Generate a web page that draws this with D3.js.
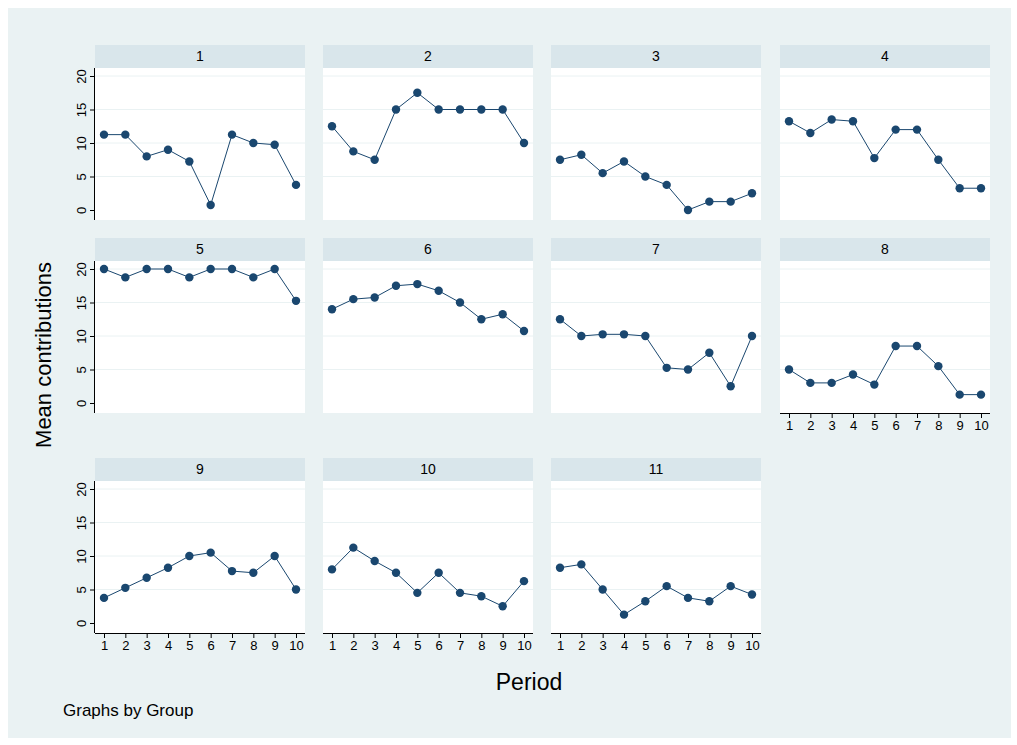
<!DOCTYPE html>
<html>
<head>
<meta charset="utf-8">
<style>
  body { margin: 0; background: white; }
  svg { font-family: Arial, 'Liberation Sans', sans-serif; }
</style>
</head>
<body>
<svg width="1017" height="745"></svg>
<script src="https://d3js.org/d3.v7.min.js"></script>
<script>
  let periods = [1, 2, 3, 4, 5, 6, 7, 8, 9, 10]
  let groups = ["1", "2", "3", "4", "5", "6", "7", "8", "9", "10", "11"]
  let yTicks = [0, 5, 10, 15, 20]
  let g1 = [11.25, 11.25, 8, 9, 7.25, 0.75, 11.25, 10, 9.75, 3.75]
  let g2 = [12.5, 8.75, 7.5, 15, 17.5, 15, 15, 15, 15, 10]
  let g3 = [7.5, 8.25, 5.5, 7.25, 5, 3.75, 0, 1.25, 1.25, 2.5]
  let g4 = [13.25, 11.5, 13.5, 13.25, 7.75, 12, 12, 7.5, 3.25, 3.25]
  let g5 = [20, 18.75, 20, 20, 18.75, 20, 20, 18.75, 20, 15.25]
  let g6 = [14, 15.5, 15.75, 17.5, 17.75, 16.75, 15, 12.5, 13.25, 10.75]
  let g7 = [12.5, 10, 10.25, 10.25, 10, 5.25, 5, 7.5, 2.5, 10]
  let g8 = [5, 3, 3, 4.25, 2.75, 8.5, 8.5, 5.5, 1.25, 1.25]
  let g9 = [3.75, 5.25, 6.75, 8.25, 10, 10.5, 7.75, 7.5, 10, 5]
  let g10 = [8, 11.25, 9.25, 7.5, 4.5, 7.5, 4.5, 4, 2.5, 6.25]
  let g11 = [8.25, 8.75, 5, 1.25, 3.25, 5.5, 3.75, 3.25, 5.5, 4.25]
  let series = [g1, g2, g3, g4, g5, g6, g7, g8, g9, g10, g11]

  let svg = d3.select("svg")
  let navy = "#1a476f"

  svg.append("rect").attr("x", 8).attr("y", 8).attr("width", 1003).attr("height", 730).attr("fill", "#eaf2f3")

  let colX = [95, 323, 551, 780]
  let rowTop = [45, 238, 458]
  let pw = 210, stripH = 23, ph = 152

  groups.forEach((name, i) => {
    let col = i % 4, row = Math.floor(i / 4)
    let x0 = colX[col], top = rowTop[row]
    let g = svg.append("g").attr("transform", `translate(${x0},${top})`)
    g.append("rect").attr("width", pw).attr("height", stripH).attr("fill", "#d9e6eb")
    g.append("text").attr("x", pw / 2).attr("y", 16).attr("text-anchor", "middle")
      .attr("font-size", 14).text(name)
    let pt = top + stripH
    let p = svg.append("g").attr("transform", `translate(${x0},${pt})`)
    p.append("rect").attr("width", pw).attr("height", ph).attr("fill", "white")

    let x = d3.scaleLinear().domain([1, 10]).range([9, pw - 9])
    let y = d3.scaleLinear().domain([0, 20]).range([ph - 10, 8])

    p.selectAll(".grid").data(yTicks.slice(1)).join("line")
      .attr("x1", 0).attr("x2", pw).attr("y1", d => y(d)).attr("y2", d => y(d))
      .attr("stroke", "#eaf2f3").attr("stroke-width", 1)

    if (col === 0) {
      let ax = p.append("g").call(d3.axisLeft(y).tickValues(yTicks).tickSize(5).tickPadding(3))
      ax.select(".domain").attr("stroke", "#000").attr("d", `M-0.5,0V${ph}`)
      ax.selectAll(".tick text").attr("font-size", 13).attr("text-anchor", "middle")
        .attr("transform", "translate(-14,0) rotate(-90)").attr("x", 0).attr("y", 0).attr("dy", "0.35em")
    }
    let showX = row === 2 || (row === 1 && col === 3)
    if (showX) {
      let ax = p.append("g").attr("transform", `translate(0,${ph})`)
        .call(d3.axisBottom(x).tickValues(periods).tickSize(5).tickPadding(3).tickFormat(d3.format("d")))
      ax.select(".domain").attr("d", `M0,0.5H${pw}`).attr("stroke", "#000")
      ax.selectAll("text").attr("font-size", 13)
    }

    let data = periods.map((d, j) => [d, series[i][j]])
    p.append("path").datum(data).attr("fill", "none").attr("stroke", navy).attr("stroke-width", 1)
      .attr("d", d3.line().x(d => x(d[0])).y(d => y(d[1])))
    p.selectAll("circle").data(data).join("circle")
      .attr("cx", d => x(d[0])).attr("cy", d => y(d[1])).attr("r", 4.2).attr("fill", navy)
  })

  svg.append("text").attr("transform", "translate(51,355) rotate(-90)").attr("text-anchor", "middle")
    .attr("font-size", 22).text("Mean contributions")
  svg.append("text").attr("x", 529).attr("y", 690).attr("text-anchor", "middle")
    .attr("font-size", 23).text("Period")
  svg.append("text").attr("x", 63).attr("y", 716).attr("font-size", 17).text("Graphs by Group")
</script>
</body>
</html>
